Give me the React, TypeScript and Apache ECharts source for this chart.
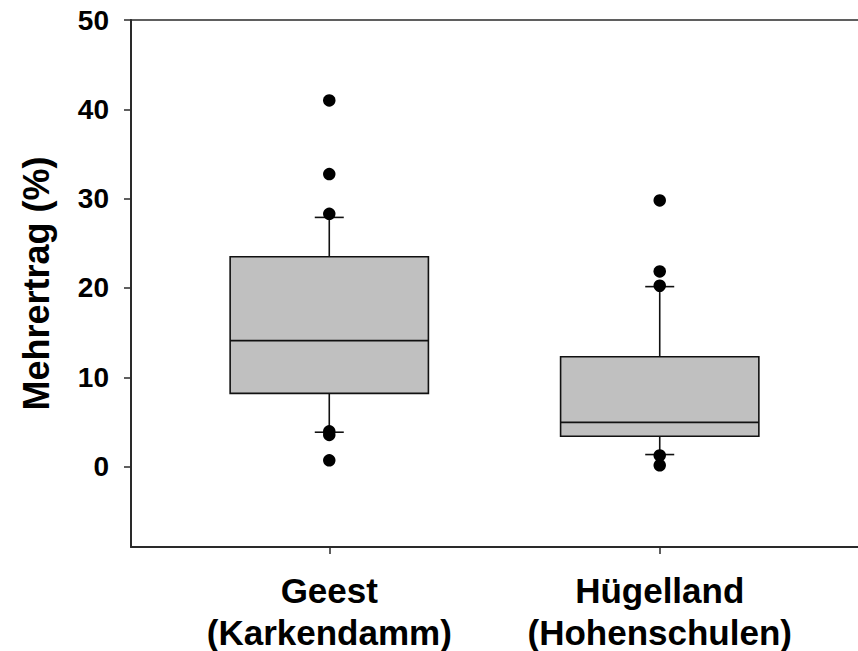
import React, { useEffect, useRef } from "react";
import * as echarts from "echarts";

// ---- data ----
const categories = ["Geest\n(Karkendamm)", "Hügelland\n(Hohenschulen)"];
const categoryPositions = [1, 2];
// [lower whisker, Q1, median, Q3, upper whisker]
const geestBox = [3.85, 8.2, 14.1, 23.5, 27.9];
const huegellandBox = [1.35, 3.4, 4.95, 12.3, 20.15];
const geestOutliers = [41.0, 32.75, 28.3, 3.95, 3.55, 0.7];
const huegellandOutliers = [29.8, 21.85, 20.25, 1.25, 0.15];
const yTicks = [0, 10, 20, 30, 40, 50];
const yMin = -9;
const yMax = 50;
const xMin = 0.4;
const xMax = 2.6;

const FONT = "'Liberation Sans', Arial, Helvetica, sans-serif";
const AXIS_COLOR = "#2a2a2a";

export default function App() {
  const ref = useRef<HTMLDivElement>(null);

  useEffect(() => {
    if (!ref.current) return;
    const chart = echarts.init(ref.current, null, { renderer: "svg" });

    const boxes = [geestBox, huegellandBox];
    const boxData = boxes.map((b, i) => [categoryPositions[i], ...b]);
    const outlierData: number[][] = [];
    [geestOutliers, huegellandOutliers].forEach((arr, i) => {
      arr.forEach((v) => outlierData.push([categoryPositions[i], v]));
    });

    const BOX_W_UNITS = 0.6;
    const CAP_HALF = 14.5;
    const LW = 1.6;
    const stroke = "#111";

    chart.setOption({
      animation: false,
      backgroundColor: "#ffffff",
      grid: {
        left: 131,
        right: 0,
        top: 20,
        bottom: 104,
        containLabel: false,
        outerBoundsMode: "none",
      },
      xAxis: [
        {
          type: "value",
          min: xMin,
          max: xMax,
          position: "bottom",
          splitLine: { show: false },
          axisLine: { show: true, onZero: false, lineStyle: { color: AXIS_COLOR, width: 2 } },
          axisTick: {
            show: true,
            length: 7,
            customValues: categoryPositions,
            lineStyle: { color: AXIS_COLOR, width: 1.5 },
          },
          axisLabel: {
            show: true,
            customValues: categoryPositions,
            formatter: (v: number) => categories[Math.round(v) - 1] ?? "",
            fontFamily: FONT,
            fontWeight: "bold",
            fontSize: 35,
            lineHeight: 42,
            color: "#000",
            margin: 22,
          },
        },
        {
          type: "value",
          min: xMin,
          max: xMax,
          position: "top",
          splitLine: { show: false },
          axisLine: { show: true, onZero: false, lineStyle: { color: AXIS_COLOR, width: 1.5 } },
          axisTick: { show: false },
          axisLabel: { show: false },
        },
      ],
      yAxis: {
        type: "value",
        min: yMin,
        max: yMax,
        name: "Mehrertrag (%)",
        nameLocation: "middle",
        nameRotate: 90,
        nameGap: 77,
        nameTextStyle: {
          fontFamily: FONT,
          fontWeight: "bold",
          fontSize: 36,
          color: "#000",
        },
        splitLine: { show: false },
        axisLine: { show: true, onZero: false, lineStyle: { color: AXIS_COLOR, width: 2 } },
        axisTick: {
          show: true,
          length: 7,
          customValues: yTicks,
          lineStyle: { color: AXIS_COLOR, width: 1.5 },
        },
        axisLabel: {
          show: true,
          customValues: yTicks,
          fontFamily: FONT,
          fontWeight: "bold",
          fontSize: 28,
          color: "#000",
          margin: 22,
        },
      },
      series: [
        {
          type: "custom",
          xAxisIndex: 0,
          encode: { x: 0, y: [1, 2, 3, 4, 5] },
          data: boxData,
          renderItem: (params: any, api: any) => {
            const x = api.value(0);
            const lo = api.coord([x, api.value(1)]);
            const q1 = api.coord([x, api.value(2)]);
            const med = api.coord([x, api.value(3)]);
            const q3 = api.coord([x, api.value(4)]);
            const hi = api.coord([x, api.value(5)]);
            const half = api.size([BOX_W_UNITS, 0])[0] / 2;
            const cx = q1[0];
            const ls = { stroke, lineWidth: LW };
            return {
              type: "group",
              children: [
                { type: "line", shape: { x1: cx, y1: hi[1], x2: cx, y2: q3[1] }, style: ls },
                { type: "line", shape: { x1: cx, y1: q1[1], x2: cx, y2: lo[1] }, style: ls },
                { type: "line", shape: { x1: cx - CAP_HALF, y1: hi[1], x2: cx + CAP_HALF, y2: hi[1] }, style: ls },
                { type: "line", shape: { x1: cx - CAP_HALF, y1: lo[1], x2: cx + CAP_HALF, y2: lo[1] }, style: ls },
                {
                  type: "rect",
                  shape: { x: cx - half, y: q3[1], width: half * 2, height: q1[1] - q3[1] },
                  style: { fill: "#c0c0c0", stroke, lineWidth: LW },
                },
                { type: "line", shape: { x1: cx - half, y1: med[1], x2: cx + half, y2: med[1] }, style: ls },
              ],
            };
          },
          z: 2,
        },
        {
          type: "scatter",
          xAxisIndex: 0,
          data: outlierData,
          symbol: "circle",
          symbolSize: 12.5,
          itemStyle: { color: "#000", opacity: 1 },
          z: 3,
        },
      ],
    });

    return () => chart.dispose();
  }, []);

  return (
    <div
      ref={ref}
      style={{ position: "fixed", left: 0, top: 0, width: 858, height: 651, background: "#fff" }}
    />
  );
}
